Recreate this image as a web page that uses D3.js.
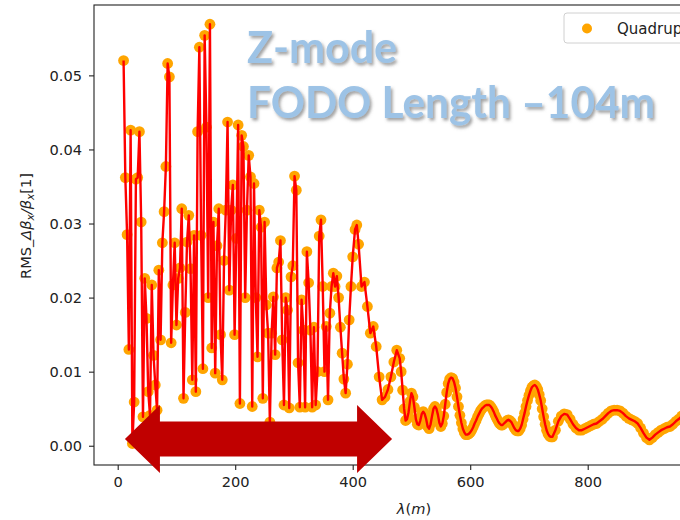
<!DOCTYPE html>
<html><head><meta charset="utf-8">
<script src="https://cdn.jsdelivr.net/npm/d3@7"></script>
<style>
html,body{margin:0;padding:0;background:#fff;}
svg{display:block;}
</style></head>
<body>
<svg id="chart" width="680" height="520"></svg>
<script>
// ---- data ----
const lambdaNoisy = [
 10,13,16,19,22,25,28,31,34,37,
 40,43,46,49,52,55,58,61,64,67,
 70,73,76,79,82,85,88,91,94,97,
 100,103,106,109,112,115,118,121,124,127,
 130,133,136,139,142,145,148,151,154,157,
 160,163,166,169,172,175,178,181,184,187,
 190,193,196,199,202,205,208,211,214,217,
 220,223,226,229,232,235,238,241,244,247,
 250,253,256,259,262,265,268,271,274,277,
 280,283,286,289,292,295,298,301,304,307,
 310,313,316,319,322,325,328,331,334,337,
 340,343,346,349,352,355,358,361,364,367,
 370,373,376,379,382,385,388,391,394,397];
const rmsNoisy = [
 .0520,.0362,.0285,.0130,.0426,.0003,.0059,.0360,.0362,.0424,
 .0302,.0039,.0226,.0172,.0073,.0041,.0217,.0122,.0082,.0048,
 .0237,.0143,.0274,.0316,.0377,.0516,.0498,.0139,.0217,.0274,
 .0163,.0226,.0240,.0320,.0064,.0180,.0275,.0311,.0239,.0089,
 .0284,.0073,.0424,.0538,.0284,.0104,.0554,.0430,.0200,.0569,
 .0132,.0302,.0098,.0270,.0320,.0150,.0089,.0250,.0318,.0437,
 .0210,.0318,.0352,.0150,.0280,.0433,.0057,.0419,.0404,.0200,
 .0318,.0392,.0363,.0053,.0354,.0200,.0120,.0318,.0295,.0064,
 .0302,.0190,.0152,.0032,.0152,.0201,.0123,.0240,.0248,.0277,
 .0143,.0055,.0200,.0183,.0051,.0228,.0243,.0364,.0345,.0112,
 .0052,.0197,.0156,.0052,.0262,.0220,.0156,.0052,.0160,.0055,
 .0100,.0283,.0305,.0215,.0100,.0161,.0062,.0179,.0215,.0233,
 .0215,.0229,.0200,.0160,.0125,.0090,.0071,.0110,.0170,.0215];
const lambdaSmooth = [
 400,404,407,410,415,420,425,430,435,440,
 445,450,455,460,465,470,475,
 480,482.5,485,487.5,490,492.5,495,497.5,500,502.5,
 505,507.5,510,512.5,515,517.5,520,522.5,525,527.5,
 530,532.5,535,537.5,540,542.5,545,547.5,550,552.5,
 555,557.5,560,562.5,565,567.5,570,572.5,575,577.5,
 580,582.5,585,587.5,590,592.5,595,597.5,600,602.5,
 605,607.5,610,612.5,615,617.5,620,622.5,625,627.5,
 630,632.5,635,637.5,640,642.5,645,647.5,650,652.5,
 655,657.5,660,662.5,665,667.5,670,672.5,675,677.5,
 680,682.5,685,687.5,690,692.5,695,697.5,700,702.5,
 705,707.5,710,712.5,715,717.5,720,722.5,725,727.5,
 730,732.5,735,737.5,740,
 745,750,755,760,765,770,775,780,785,790,
 795,800,805,810,815,820,825,830,835,840,
 845,850,855,860,865,870,875,880,885,890,
 895,900,905,910,915,920,925,930,935,940,
 945,950,955,960,965,970,975,980,985,990,
 995,1000];
const rmsSmooth = [
 .0255,.0292,.0298,.0272,.0215,.0221,.0188,.0152,.0161,.0134,
 .0093,.0062,.0066,.0076,.0093,.0113,.0129,
 .0118,.0100,.0075,.0050,.0034,.0036,.0045,.0060,.0071,.0066,
 .0052,.0036,.0029,.0028,.0034,.0043,.0046,.0043,.0036,.0026,
 .0023,.0029,.0040,.0050,.0053,.0050,.0042,.0031,.0026,.0030,
 .0040,.0056,.0072,.0084,.0090,.0092,.0091,.0086,.0078,.0066,
 .0053,.0041,.0031,.0023,.0018,.0015,.0015,.0016,.0018,.0021,
 .0025,.0030,.0034,.0039,.0043,.0047,.0050,.0052,.0054,.0055,
 .0055,.0055,.0053,.0050,.0046,.0041,.0037,.0033,.0030,.0028,
 .0028,.0030,.0032,.0034,.0035,.0034,.0032,.0028,.0024,.0021,
 .0020,.0020,.0023,.0028,.0036,.0044,.0053,.0061,.0068,.0074,
 .0079,.0081,.0082,.0080,.0076,.0069,.0061,.0050,.0039,.0029,
 .0021,.0016,.0013,.0012,.0012,
 .0021,.0033,.0040,.0043,.0042,.0036,.0029,.0024,.0021,.0021,
 .0023,.0025,.0027,.0029,.0030,.0033,.0036,.0040,.0044,.0047,
 .0048,.0048,.0047,.0044,.0040,.0037,.0035,.0033,.0030,.0024,
 .0017,.0011,.0008,.0011,.0015,.0018,.0021,.0023,.0025,.0026,
 .0029,.0033,.0036,.0040,.0043,.0045,.0046,.0045,.0042,.0038,
 .0035,.0033];
const xTicks = [0,200,400,600,800];
const yTicks = [0,0.01,0.02,0.03,0.04,0.05];
const legendLabel = "Quadrupole errors";
const titleLines = ["Z-mode","FODO Length \u2013104m"];
const arrowSpan = [12.3, 467];   // λ extent of annotation arrow
const arrowLevel = 0.0009;

// ---- chart ----
const svg = d3.select("#chart");
svg.append("rect").attr("width",680).attr("height",520).attr("fill","#fff");

const L = 94, T = 5, R = 734, B = 465;
const x = d3.scaleLinear().domain([-40.34, 1049.0]).range([L, R]);
const y = d3.scaleLinear().domain([-0.0026, 0.0595]).range([B, T]);

const data = lambdaNoisy.map((l,i)=>({l, v: rmsNoisy[i]}))
  .concat(lambdaSmooth.map((l,i)=>({l, v: rmsSmooth[i]})));

// markers
svg.append("g").selectAll("circle").data(data).join("circle")
  .attr("cx", d=>x(d.l)).attr("cy", d=>y(d.v)).attr("r", 5.4)
  .attr("fill", "#FFA500");
// line
svg.append("path").datum(data)
  .attr("d", d3.line().x(d=>x(d.l)).y(d=>y(d.v)))
  .attr("fill","none").attr("stroke","#FF0000").attr("stroke-width",2.4)
  .attr("stroke-linejoin","round");

// frame
svg.append("rect").attr("x",L).attr("y",T).attr("width",R-L).attr("height",B-T)
  .attr("fill","none").attr("stroke","#222").attr("stroke-width",1.1);

// axes
const fs = "14.6px";
const gx = svg.append("g").attr("transform",`translate(0,${B})`)
  .call(d3.axisBottom(x).tickValues(xTicks).tickFormat(d3.format("d")).tickSize(5).tickPadding(7));
const gy = svg.append("g").attr("transform",`translate(${L},0)`)
  .call(d3.axisLeft(y).tickValues(yTicks).tickFormat(d3.format(".2f")).tickSize(5).tickPadding(7));
[gx,gy].forEach(g=>{
  g.select(".domain").remove();
  g.selectAll("line").attr("stroke","#222").attr("stroke-width",1.1);
  g.selectAll("text").attr("fill","#222").style("font-family","DejaVu Sans").style("font-size",fs);
});

// y label
const yl = svg.append("text").attr("transform","translate(31,226) rotate(-90)")
  .attr("text-anchor","middle").attr("fill","#222")
  .style("font-family","DejaVu Sans").style("font-size",fs);
yl.append("tspan").text("RMS_");
yl.append("tspan").style("font-style","italic").text("\u0394\u03B2");
yl.append("tspan").style("font-style","italic").style("font-size","10.5px").attr("dy",3).text("x");
yl.append("tspan").style("font-style","italic").attr("dy",-3).text("/\u03B2");
yl.append("tspan").style("font-style","italic").style("font-size","10.5px").attr("dy",3).text("x");
yl.append("tspan").attr("dy",-3).text("[1]");

// x label
const xl = svg.append("text").attr("x",414).attr("y",514).attr("text-anchor","middle")
  .attr("fill","#222").style("font-family","DejaVu Sans").style("font-size",fs);
xl.append("tspan").style("font-style","italic").text("\u03BB");
xl.append("tspan").text("(");
xl.append("tspan").style("font-style","italic").text("m");
xl.append("tspan").text(")");

// legend
const lg = svg.append("g");
lg.append("rect").attr("x",564).attr("y",13).attr("width",200).attr("height",30).attr("rx",3)
  .attr("fill","#fff").attr("fill-opacity",0.8).attr("stroke","#d0d0d0");
lg.append("circle").attr("cx",587).attr("cy",28.5).attr("r",5).attr("fill","#FFA500");
lg.append("text").attr("x",617).attr("y",33.5).attr("fill","#222")
  .style("font-family","DejaVu Sans").style("font-size","15px").text(legendLabel);

// title overlay
const defs = svg.append("defs");
const f = defs.append("filter").attr("id","shadow").attr("x","-10%").attr("y","-20%").attr("width","130%").attr("height","150%");
f.append("feDropShadow").attr("dx",2).attr("dy",2.5).attr("stdDeviation",1.5)
  .attr("flood-color","#555").attr("flood-opacity",0.55);
const tg = svg.append("g").attr("filter","url(#shadow)");
const titleY = [63,118], titleW = [150,408];
titleLines.forEach((t,i)=>{
  tg.append("text").attr("x",247).attr("y",titleY[i])
    .attr("textLength",titleW[i]).attr("lengthAdjust","spacingAndGlyphs")
    .attr("fill","#9DC3E6").style("font-family","Lato").style("font-weight","bold")
    .style("font-size","43px").text(t);
});

// arrow annotation
const ax1 = x(arrowSpan[0]), ax2 = x(arrowSpan[1]), ay = y(arrowLevel);
const hl = 35, hh = 34, sh = 17.5;
const pts = [[ax1,ay],[ax1+hl,ay-hh],[ax1+hl,ay-sh],[ax2-hl,ay-sh],[ax2-hl,ay-hh],[ax2,ay],
             [ax2-hl,ay+hh],[ax2-hl,ay+sh],[ax1+hl,ay+sh],[ax1+hl,ay+hh]];
svg.append("path").attr("d", d3.line()(pts)+"Z").attr("fill","#C00000");
</script>
</body></html>
